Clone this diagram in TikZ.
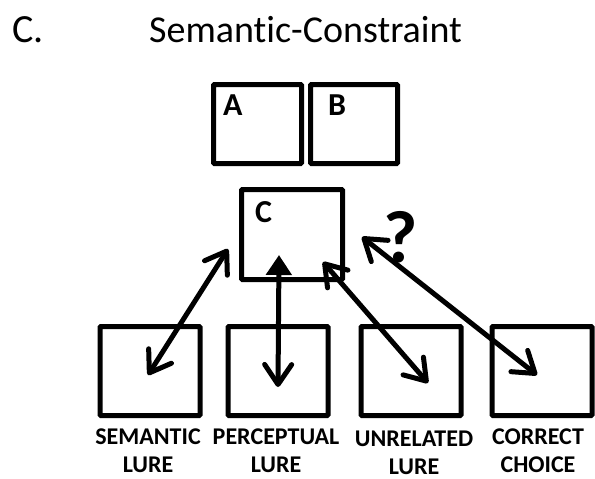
\documentclass[tikz,border=0pt]{standalone}
\usepackage{fontspec}
\setmainfont{Carlito}[Ligatures=NoCommon]
\usetikzlibrary{arrows.meta}

\begin{document}
\begin{tikzpicture}[x=1pt,y=-1pt,
    box/.style={draw,line width=5pt,rounded corners=1pt,inner sep=0pt},
    lower/.style={box,minimum width=100pt,minimum height=89pt},
    >={Straight Barb[length=20pt,width=27pt,round]},
    link/.style={line width=5pt,line cap=round,<->},
    tag/.style={font=\fontsize{24}{28}\selectfont\bfseries,align=center},
    letter/.style={font=\fontsize{32}{38}\selectfont\bfseries,anchor=base west,inner sep=0pt}
]
\useasboundingbox (0,0) rectangle (595,479);

% title
\node[anchor=base west,inner sep=0pt,font=\fontsize{40}{48}\selectfont] (Panel) at (12,42) {C.};
\node[anchor=base west,inner sep=0pt,font=\fontsize{38}{48}\selectfont] (Title) at (149,42) {Semantic-Constraint};

% study pair and cue
\node[box,minimum width=88pt,minimum height=79pt] (A) at (257.5,124) {};
\node[box,minimum width=87pt,minimum height=79pt] (B) at (354,124) {};
\node[box,minimum width=101pt,minimum height=90pt] (C) at (292,234.5) {};
\node[letter] (Aname) at (223,115) {A};
\node[letter] (Bname) at (328,115) {B};
\node[letter] (Cname) at (255,222) {C};

% choices
\node[lower] (Sem) at (150,371) {};
\node[lower] (Per) at (278,371) {};
\node[lower] (Unr) at (411,371) {};
\node[lower] (Cor) at (542,371) {};

\node[tag] (SemName) at (148,451) {SEMANTIC\\LURE};
\node[tag] (PerName) at (276,451) {PERCEPTUAL\\LURE};
\node[tag] (UnrName) at (414,452.5) {UNRELATED\\LURE};
\node[tag] (CorName) at (538,451) {CORRECT\\CHOICE};

% arrow ends
\coordinate (semTop) at (228,249);
\coordinate (semEnd) at (148,375);
\coordinate (perTop) at (279,255);
\coordinate (perEnd) at (278,387);
\coordinate (unrTop) at (323,262);
\coordinate (unrEnd) at (428,383);
\coordinate (corTop) at (362,237);
\coordinate (corEnd) at (537,375);

\draw[link] (semTop) -- (semEnd);
\draw[line width=5pt,line cap=round,{Triangle[length=20pt,width=25pt]}->] (perTop) -- (perEnd);
\draw[link] (unrTop) -- (unrEnd);
\draw[link] (corTop) -- (corEnd);

\node[font=\fontsize{74}{80}\selectfont\bfseries,inner sep=0pt] (Query) at (401,237) {?};

\end{tikzpicture}
\end{document}
